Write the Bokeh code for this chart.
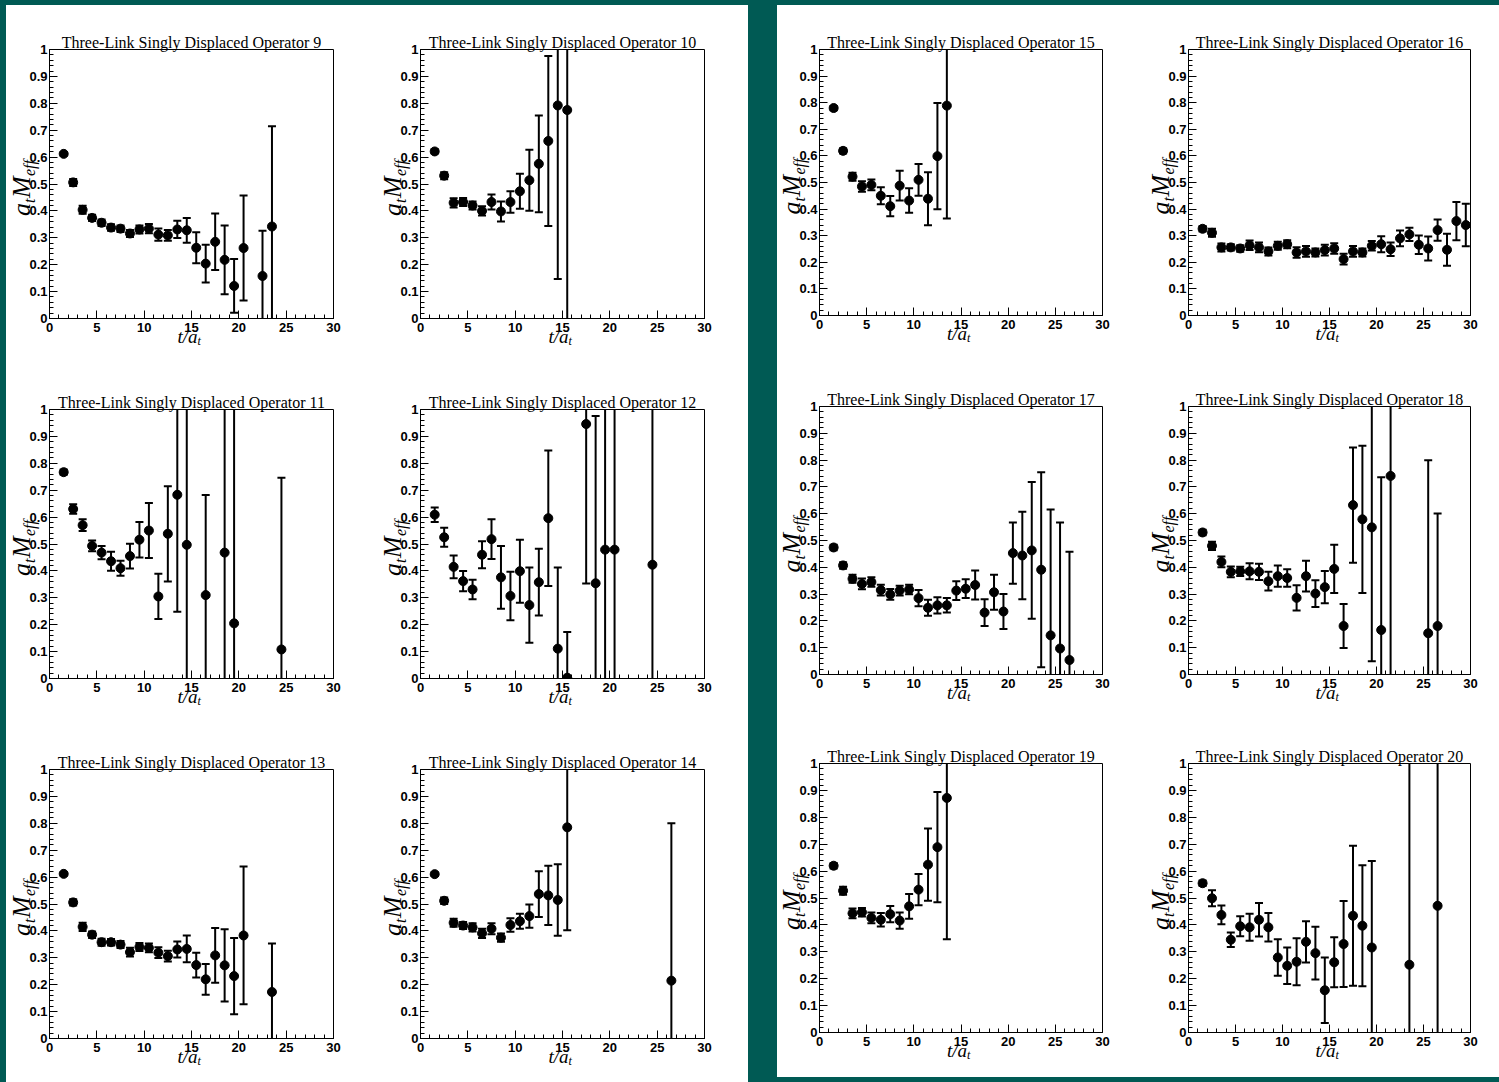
import math
from bokeh.plotting import figure
from bokeh.models import Range1d, SingleIntervalTicker, CustomJSTickFormatter, Spacer, ColumnDataSource
from bokeh.core.properties import value
from bokeh.layouts import row, column
from bokeh.embed import file_html
from bokeh.resources import INLINE

TEAL = "#005a54"

# ---------------- data (t/a_t, a_t M_eff, error) ----------------
OP9_T = [1.5, 2.5, 3.5, 4.5, 5.5, 6.5, 7.5, 8.5, 9.5, 10.5, 11.5, 12.5, 13.5, 14.5, 15.5, 16.5, 17.5, 18.5, 19.5, 20.5, 22.5, 23.5]
OP9_M = [0.612, 0.506, 0.404, 0.374, 0.356, 0.338, 0.334, 0.316, 0.331, 0.334, 0.312, 0.309, 0.331, 0.328, 0.263, 0.204, 0.285, 0.218, 0.121, 0.262, 0.158, 0.342]
OP9_E = [0.006, 0.013, 0.015, 0.012, 0.012, 0.012, 0.012, 0.013, 0.015, 0.017, 0.023, 0.02, 0.032, 0.046, 0.058, 0.07, 0.105, 0.128, 0.1, 0.195, 0.168, 0.373]

OP10_T = [1.5, 2.5, 3.5, 4.5, 5.5, 6.5, 7.5, 8.5, 9.5, 10.5, 11.5, 12.5, 13.5, 14.5, 15.5]
OP10_M = [0.621, 0.531, 0.430, 0.433, 0.420, 0.400, 0.433, 0.398, 0.433, 0.473, 0.514, 0.575, 0.660, 0.792, 0.775]
OP10_E = [0.008, 0.013, 0.017, 0.015, 0.015, 0.017, 0.028, 0.037, 0.040, 0.065, 0.113, 0.18, 0.316, 0.645, 0.85]

OP11_T = [1.5, 2.5, 3.5, 4.5, 5.5, 6.5, 7.5, 8.5, 9.5, 10.5, 11.5, 12.5, 13.5, 14.5, 16.5, 18.5, 19.5, 24.5]
OP11_M = [0.767, 0.630, 0.570, 0.493, 0.468, 0.436, 0.410, 0.455, 0.516, 0.550, 0.305, 0.538, 0.683, 0.497, 0.310, 0.468, 0.205, 0.108]
OP11_E = [0.01, 0.018, 0.022, 0.02, 0.025, 0.035, 0.028, 0.046, 0.066, 0.102, 0.084, 0.177, 0.435, 0.6, 0.372, 0.6, 0.85, 0.638]

OP12_T = [1.5, 2.5, 3.5, 4.5, 5.5, 6.5, 7.5, 8.5, 9.5, 10.5, 11.5, 12.5, 13.5, 14.5, 15.5, 17.5, 18.5, 19.5, 20.5, 24.5]
OP12_M = [0.609, 0.525, 0.415, 0.362, 0.331, 0.460, 0.518, 0.376, 0.307, 0.399, 0.273, 0.358, 0.596, 0.111, 0.003, 0.946, 0.354, 0.479, 0.479, 0.423]
OP12_E = [0.027, 0.035, 0.042, 0.038, 0.036, 0.05, 0.074, 0.117, 0.09, 0.117, 0.14, 0.124, 0.252, 0.302, 0.17, 0.593, 0.622, 0.6, 0.6, 0.6]

OP13_T = [1.5, 2.5, 3.5, 4.5, 5.5, 6.5, 7.5, 8.5, 9.5, 10.5, 11.5, 12.5, 13.5, 14.5, 15.5, 16.5, 17.5, 18.5, 19.5, 20.5, 23.5]
OP13_M = [0.612, 0.506, 0.415, 0.386, 0.358, 0.358, 0.349, 0.321, 0.340, 0.337, 0.319, 0.306, 0.331, 0.333, 0.273, 0.220, 0.309, 0.272, 0.232, 0.383, 0.173]
OP13_E = [0.006, 0.012, 0.015, 0.012, 0.013, 0.012, 0.013, 0.016, 0.015, 0.016, 0.02, 0.02, 0.03, 0.05, 0.046, 0.057, 0.102, 0.134, 0.142, 0.256, 0.18]

OP14_T = [1.5, 2.5, 3.5, 4.5, 5.5, 6.5, 7.5, 8.5, 9.5, 10.5, 11.5, 12.5, 13.5, 14.5, 15.5, 26.5]
OP14_M = [0.611, 0.512, 0.430, 0.420, 0.413, 0.391, 0.408, 0.375, 0.422, 0.436, 0.455, 0.537, 0.532, 0.515, 0.785, 0.215]
OP14_E = [0.006, 0.012, 0.015, 0.013, 0.015, 0.017, 0.02, 0.015, 0.025, 0.028, 0.043, 0.085, 0.11, 0.133, 0.383, 0.585]

OP15_T = [1.5, 2.5, 3.5, 4.5, 5.5, 6.5, 7.5, 8.5, 9.5, 10.5, 11.5, 12.5, 13.5]
OP15_M = [0.780, 0.619, 0.522, 0.485, 0.491, 0.450, 0.411, 0.488, 0.432, 0.510, 0.439, 0.599, 0.789]
OP15_E = [0.008, 0.01, 0.015, 0.02, 0.02, 0.032, 0.038, 0.056, 0.046, 0.06, 0.1, 0.2, 0.424]

OP16_T = [1.5, 2.5, 3.5, 4.5, 5.5, 6.5, 7.5, 8.5, 9.5, 10.5, 11.5, 12.5, 13.5, 14.5, 15.5, 16.5, 17.5, 18.5, 19.5, 20.5, 21.5, 22.5, 23.5, 24.5, 25.5, 26.5, 27.5, 28.5, 29.5]
OP16_M = [0.326, 0.311, 0.256, 0.256, 0.252, 0.264, 0.256, 0.241, 0.262, 0.268, 0.237, 0.241, 0.237, 0.246, 0.252, 0.212, 0.241, 0.237, 0.262, 0.268, 0.249, 0.290, 0.305, 0.266, 0.252, 0.321, 0.247, 0.355, 0.340]
OP16_E = [0.01, 0.015, 0.015, 0.012, 0.012, 0.018, 0.018, 0.015, 0.015, 0.015, 0.02, 0.02, 0.015, 0.02, 0.02, 0.02, 0.02, 0.015, 0.018, 0.03, 0.025, 0.03, 0.025, 0.035, 0.045, 0.04, 0.06, 0.072, 0.08]

OP17_T = [1.5, 2.5, 3.5, 4.5, 5.5, 6.5, 7.5, 8.5, 9.5, 10.5, 11.5, 12.5, 13.5, 14.5, 15.5, 16.5, 17.5, 18.5, 19.5, 20.5, 21.5, 22.5, 23.5, 24.5, 25.5, 26.5]
OP17_M = [0.474, 0.407, 0.357, 0.338, 0.345, 0.315, 0.299, 0.313, 0.317, 0.285, 0.249, 0.258, 0.258, 0.313, 0.320, 0.334, 0.231, 0.307, 0.235, 0.453, 0.444, 0.463, 0.391, 0.146, 0.097, 0.054]
OP17_E = [0.01, 0.012, 0.015, 0.02, 0.018, 0.02, 0.02, 0.018, 0.018, 0.03, 0.03, 0.03, 0.027, 0.035, 0.035, 0.054, 0.05, 0.065, 0.065, 0.114, 0.163, 0.255, 0.364, 0.47, 0.47, 0.404]

OP18_T = [1.5, 2.5, 3.5, 4.5, 5.5, 6.5, 7.5, 8.5, 9.5, 10.5, 11.5, 12.5, 13.5, 14.5, 15.5, 16.5, 17.5, 18.5, 19.5, 20.5, 21.5, 25.5, 26.5]
OP18_M = [0.530, 0.480, 0.420, 0.383, 0.385, 0.385, 0.383, 0.348, 0.367, 0.360, 0.286, 0.367, 0.302, 0.326, 0.394, 0.181, 0.632, 0.579, 0.549, 0.166, 0.741, 0.154, 0.181]
OP18_E = [0.01, 0.015, 0.02, 0.02, 0.017, 0.03, 0.03, 0.035, 0.04, 0.033, 0.047, 0.057, 0.05, 0.06, 0.09, 0.082, 0.215, 0.275, 0.5, 0.57, 0.8, 0.645, 0.42]

OP19_T = [1.5, 2.5, 3.5, 4.5, 5.5, 6.5, 7.5, 8.5, 9.5, 10.5, 11.5, 12.5, 13.5]
OP19_M = [0.620, 0.527, 0.443, 0.447, 0.426, 0.419, 0.440, 0.416, 0.469, 0.531, 0.624, 0.689, 0.872]
OP19_E = [0.01, 0.015, 0.018, 0.016, 0.02, 0.025, 0.03, 0.03, 0.046, 0.058, 0.134, 0.205, 0.525]

OP20_T = [1.5, 2.5, 3.5, 4.5, 5.5, 6.5, 7.5, 8.5, 9.5, 10.5, 11.5, 12.5, 13.5, 14.5, 15.5, 16.5, 17.5, 18.5, 19.5, 23.5, 26.5]
OP20_M = [0.555, 0.499, 0.437, 0.345, 0.395, 0.391, 0.419, 0.391, 0.279, 0.248, 0.263, 0.337, 0.295, 0.157, 0.261, 0.329, 0.434, 0.397, 0.316, 0.252, 0.471]
OP20_E = [0.01, 0.03, 0.035, 0.027, 0.037, 0.05, 0.062, 0.053, 0.068, 0.068, 0.087, 0.077, 0.098, 0.122, 0.093, 0.16, 0.26, 0.225, 0.322, 0.8, 0.8]

TITLE = "Three-Link Singly Displaced Operator {}"

SERIF = "Liberation Serif"
SANS = "Liberation Sans"


def add_text(p, x, y, txt, xo, yo, size, angle=0.0, style="italic", align="left"):
    p.text(x=[x], y=[y], text=[txt], x_offset=xo, y_offset=yo, angle=angle,
           text_align=align, text_baseline="alphabetic", text_font=value(SERIF),
           text_font_style=style, text_font_size=size, text_color="black",
           level="overlay")


def make_panel(op, t, m, e, width, height, bl, br, bt, bb):
    p = figure(width=width, height=height,
               min_border_left=bl, min_border_right=br,
               min_border_top=bt, min_border_bottom=bb,
               x_range=Range1d(0, 30), y_range=Range1d(0, 1),
               toolbar_location=None, output_backend="svg",
               background_fill_color="white", border_fill_color="white",
               outline_line_color="black", outline_line_width=1)
    p.xgrid.visible = False
    p.ygrid.visible = False

    # title
    p.title.text = TITLE.format(op)
    p.title.align = "center"
    p.title.text_font = SERIF
    p.title.text_font_style = "normal"
    p.title.text_font_size = "16px"
    p.title.text_color = "black"
    p.title.standoff = -3

    fmt = CustomJSTickFormatter(code="return String(Number(tick.toFixed(2)));")
    for ax, interval in ((p.xaxis[0], 5), (p.yaxis[0], 0.1)):
        ax.ticker = SingleIntervalTicker(interval=interval, num_minor_ticks=5)
        ax.formatter = fmt
        ax.major_tick_in = 8
        ax.major_tick_out = 0
        ax.minor_tick_in = 4
        ax.minor_tick_out = 0
        ax.axis_line_color = "black"
        ax.major_tick_line_color = "black"
        ax.minor_tick_line_color = "black"
        ax.major_label_text_font = SANS
        ax.major_label_text_font_style = "bold"
        ax.major_label_text_font_size = "13px"
        ax.major_label_text_color = "black"
    p.xaxis[0].major_label_standoff = 4
    p.yaxis[0].major_label_standoff = 2

    lower = [mi - ei for mi, ei in zip(m, e)]
    upper = [mi + ei for mi, ei in zip(m, e)]
    src = ColumnDataSource(dict(t=t, m=m, lo=lower, hi=upper))
    p.segment(x0="t", y0="lo", x1="t", y1="hi", source=src, line_color="black", line_width=2)
    p.scatter(x="t", y="lo", source=src, marker="dash", size=8, line_color="black", line_width=2)
    p.scatter(x="t", y="hi", source=src, marker="dash", size=8, line_color="black", line_width=2)
    p.scatter(x="t", y="m", source=src, marker="circle", size=9, fill_color="black", line_color="black")

    # x axis label  t/a_t
    add_text(p, 15, 0, "t/a", -14, 18, "19px")
    add_text(p, 15, 0, "t", 6, 22, "12px")
    # y axis label  a_t M_eff (rotated)
    rot = math.pi / 2
    add_text(p, 0, 0.5, "a", -28, 32, "26px", rot)
    add_text(p, 0, 0.5, "t", -20, 19, "16px", rot)
    add_text(p, 0, 0.5, "M", -28, 14, "26px", rot)
    add_text(p, 0, 0.5, "eff", -20, -8, "16px", rot)
    return p


# left block geometry
LW, LBL, LBR = 371, 43, 44
LH = [360, 360, 357]
LBT = [44, 44, 44]
LBB = [47, 47, 44]
# right block geometry
RW = 361
RBL = [42, 50]
RBR = [36, 29]
RH = [355, 358, 359]
RBT = [44, 46, 45]
RBB = [45, 44, 45]

left_ops = [(9, OP9_T, OP9_M, OP9_E), (10, OP10_T, OP10_M, OP10_E),
            (11, OP11_T, OP11_M, OP11_E), (12, OP12_T, OP12_M, OP12_E),
            (13, OP13_T, OP13_M, OP13_E), (14, OP14_T, OP14_M, OP14_E)]
right_ops = [(15, OP15_T, OP15_M, OP15_E), (16, OP16_T, OP16_M, OP16_E),
             (17, OP17_T, OP17_M, OP17_E), (18, OP18_T, OP18_M, OP18_E),
             (19, OP19_T, OP19_M, OP19_E), (20, OP20_T, OP20_M, OP20_E)]

WHITE = {"background-color": "white"}

left_rows = []
for r in range(3):
    figs = []
    for c in range(2):
        op, t, m, e = left_ops[r * 2 + c]
        figs.append(make_panel(op, t, m, e, LW, LH[r], LBL, LBR, LBT[r], LBB[r]))
    left_rows.append(row(*figs, spacing=0, styles=WHITE))
left_block = column(*left_rows, spacing=0, styles=WHITE)

right_rows = []
for r in range(3):
    figs = []
    for c in range(2):
        op, t, m, e = right_ops[r * 2 + c]
        figs.append(make_panel(op, t, m, e, RW, RH[r], RBL[c], RBR[c], RBT[r], RBB[r]))
    right_rows.append(row(*figs, spacing=0, styles=WHITE))
right_block = column(*right_rows, spacing=0, styles=WHITE)

main_row = row(Spacer(width=6, height=1077), left_block, Spacer(width=29, height=1077), right_block, spacing=0)
root = column(Spacer(width=1499, height=5), main_row, spacing=0,
              styles={"background-color": TEAL})

p = root
open("out.html", "w").write(file_html(p, INLINE))
